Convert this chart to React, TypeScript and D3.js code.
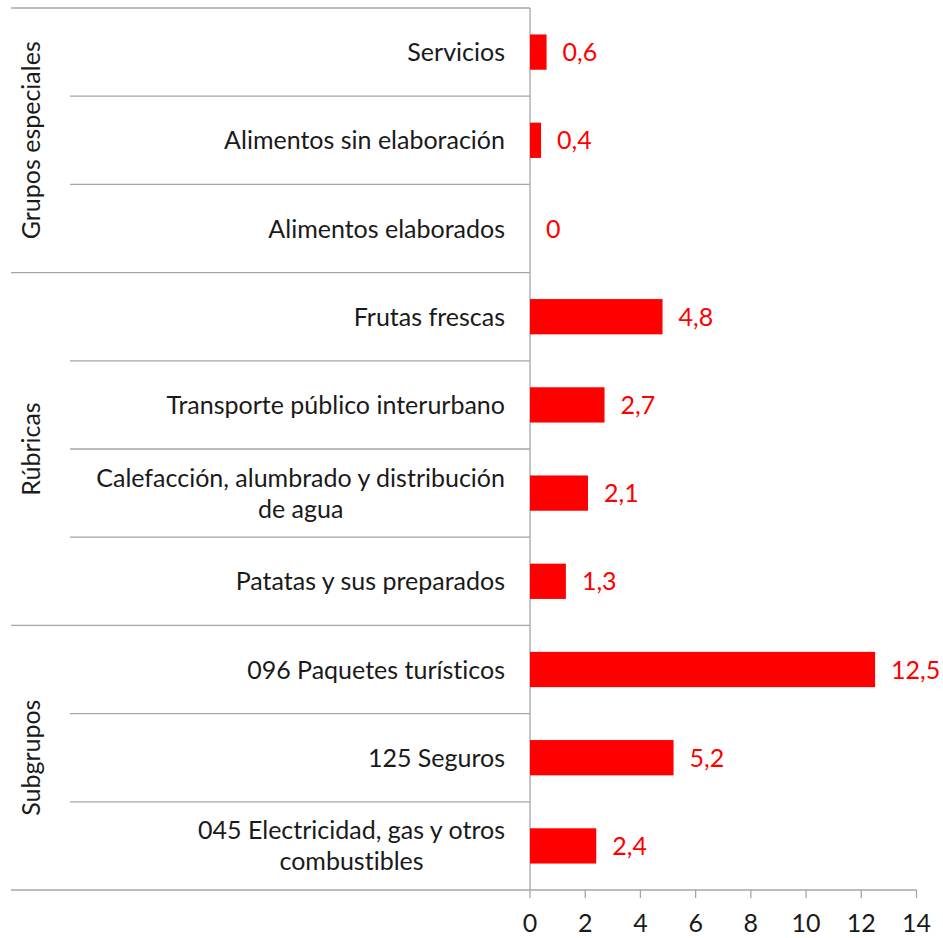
import React, { useEffect, useRef } from "react";
import * as d3 from "d3";

const categories: string[][] = [
  ["Servicios"],
  ["Alimentos sin elaboración"],
  ["Alimentos elaborados"],
  ["Frutas frescas"],
  ["Transporte público interurbano"],
  ["Calefacción, alumbrado y distribución", "de agua"],
  ["Patatas y sus preparados"],
  ["096 Paquetes turísticos"],
  ["125 Seguros"],
  ["045 Electricidad, gas y otros", "combustibles"],
];
const values: number[] = [0.6, 0.4, 0, 4.8, 2.7, 2.1, 1.3, 12.5, 5.2, 2.4];
const groupNames: string[] = ["Grupos especiales", "Rúbricas", "Subgrupos"];
const groupSizes: number[] = [3, 4, 3];
const xTicks: number[] = [0, 2, 4, 6, 8, 10, 12, 14];

const W = 943;
const H = 938;
const FONT = "Lato, 'Open Sans', sans-serif";
const FS = 25;

export default function App() {
  const ref = useRef<SVGSVGElement>(null);
  useEffect(() => {
    const svg = d3.select(ref.current);
    svg.selectAll("*").remove();
    const left = 530, right = 916.5, top = 8, bottom = 890;
    const x = d3.scaleLinear().domain([0, 14]).range([left, right]);
    const idx = categories.map((_, i) => i);
    const y = d3.scaleBand<number>().domain(idx).range([top, bottom]).paddingInner(0.6).paddingOuter(0.3);
    const step = y.step();
    const lineColor = "#a6a6a6";

    // boundaries
    const groupStarts = new Set<number>();
    let acc = 0;
    groupStarts.add(0);
    groupSizes.forEach((s) => { acc += s; groupStarts.add(acc); });
    const bounds = d3.range(categories.length + 1);
    svg.append("g").selectAll("line").data(bounds).join("line")
      .attr("x1", (b) => (groupStarts.has(b) ? 11 : 70))
      .attr("x2", left)
      .attr("y1", (b) => top + b * step)
      .attr("y2", (b) => top + b * step)
      .attr("stroke", lineColor).attr("stroke-width", 1.3);

    // axis line
    svg.append("line").attr("x1", left).attr("x2", left).attr("y1", top).attr("y2", bottom)
      .attr("stroke", lineColor).attr("stroke-width", 1.3);
    svg.append("line").attr("x1", left).attr("x2", right).attr("y1", bottom).attr("y2", bottom)
      .attr("stroke", lineColor).attr("stroke-width", 1.3);
    svg.append("g").selectAll("line").data(xTicks).join("line")
      .attr("x1", (d) => x(d)).attr("x2", (d) => x(d))
      .attr("y1", bottom).attr("y2", bottom + 8)
      .attr("stroke", lineColor).attr("stroke-width", 1.3);
    svg.append("g").selectAll("text").data(xTicks).join("text")
      .attr("x", (d) => x(d)).attr("y", 932)
      .attr("text-anchor", "middle")
      .attr("font-family", FONT).attr("font-size", FS).attr("fill", "#1a1a1a")
      .text((d) => String(d));

    // bars
    svg.append("g").selectAll("rect").data(idx).join("rect")
      .attr("x", x(0))
      .attr("y", (i) => y(i)!)
      .attr("width", (i) => x(values[i]) - x(0))
      .attr("height", y.bandwidth())
      .attr("fill", "#ff0000");

    // value labels
    svg.append("g").selectAll("text").data(idx).join("text")
      .attr("x", (i) => x(values[i]) + 16)
      .attr("y", (i) => y(i)! + y.bandwidth() / 2)
      .attr("dy", "0.36em")
      .attr("font-family", FONT).attr("font-size", FS).attr("fill", "#ff0000")
      .text((i) => String(values[i]).replace(".", ","));

    // category labels
    const labelRight = 505;
    const lh = 31;
    const cg = svg.append("g");
    idx.forEach((i) => {
      const lines = categories[i];
      const cy = y(i)! + y.bandwidth() / 2;
      const t = cg.append("text")
        .attr("font-family", FONT).attr("font-size", FS).attr("fill", "#1a1a1a")
        .style("font-variant-ligatures", "none")
        .attr("text-anchor", "middle");
      const tspans = lines.map((l, k) =>
        t.append("tspan").attr("y", cy + (k - (lines.length - 1) / 2) * lh).attr("dy", "0.36em").text(l)
      );
      const maxW = d3.max(tspans, (s) => (s.node() as SVGTSpanElement).getComputedTextLength()) || 0;
      tspans.forEach((s) => s.attr("x", labelRight - maxW / 2));
    });

    // group labels
    let start = 0;
    groupSizes.forEach((s, g) => {
      const cy = top + (start + s / 2) * step;
      svg.append("text")
        .attr("transform", `translate(31,${cy}) rotate(-90)`)
        .attr("text-anchor", "middle").attr("dy", "0.36em")
        .attr("font-family", FONT).attr("font-size", FS).attr("fill", "#1a1a1a")
        .text(groupNames[g]);
      start += s;
    });
  }, []);
  return (
    <svg ref={ref} width={W} height={H} style={{ position: "absolute", left: 0, top: 0, background: "#fff" }} />
  );
}
